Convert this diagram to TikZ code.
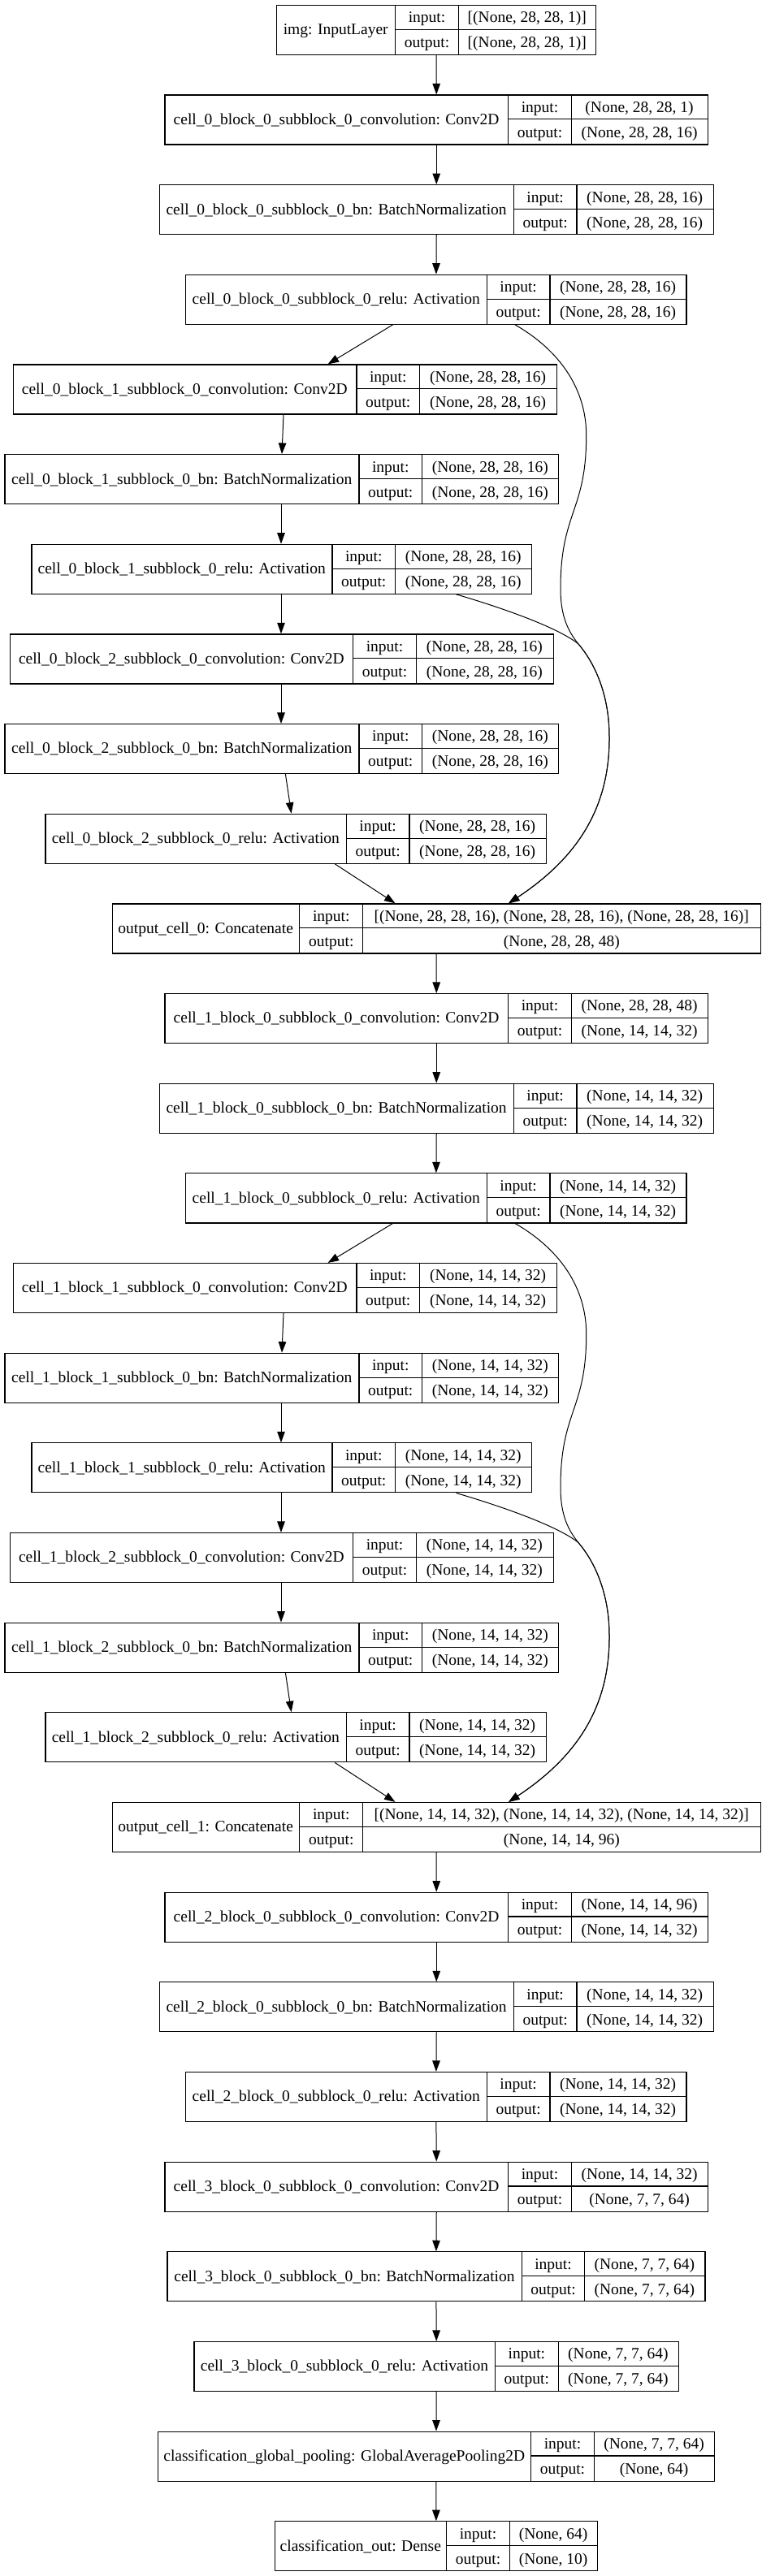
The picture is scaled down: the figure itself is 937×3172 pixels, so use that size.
\documentclass[tikz,border=0pt]{standalone}
\usepackage{fontspec}
\setmainfont{Liberation Serif}
\usetikzlibrary{arrows.meta,calc}
\tikzset{
  layerbox/.style={draw=black, line width=1.2pt, inner sep=0pt, minimum height=61pt, fill=white},
  cellline/.style={draw=black, line width=1.2pt},
  txt/.style={anchor=base, inner sep=0pt, font=\fontsize{19.5}{22}\selectfont},
  arr/.style={draw=black, line width=1pt, -{Triangle[length=13.5pt,width=9.5pt]}},
}
\newcommand\layer[9]{%
  \pgfmathsetmacro\lt{5.7+110.66*(#2-1)}%
  \pgfmathsetmacro\lb{\lt+61}%
  \pgfmathsetmacro\lw{#6-#3}%
  \pgfmathsetmacro\lmid{\lt+30.5}%
  \pgfmathsetmacro\xa{(#3+#4)/2}%
  \pgfmathsetmacro\xb{(#4+#5)/2}%
  \pgfmathsetmacro\xc{(#5+#6)/2}%
  \pgfmathsetmacro\ya{\lt+37}%
  \pgfmathsetmacro\yb{\lt+22}%
  \pgfmathsetmacro\yc{\lt+53}%
  \node[layerbox, minimum width=\lw pt, anchor=north west] (#1) at (#3,\lt) {};
  \draw[cellline] (#4,\lt) -- (#4,\lb) (#5,\lt) -- (#5,\lb) (#4,\lmid) -- (#6,\lmid);
  \node[txt] (#1-name) at (\xa,\ya) {#7};
  \node[txt] (#1-inl) at (\xb,\yb) {input:};
  \node[txt] (#1-outl) at (\xb,\yc) {output:};
  \node[txt] (#1-in) at (\xc,\yb) {#8};
  \node[txt] (#1-out) at (\xc,\yc) {#9};
}
\newcommand\sedge[4]{\draw[arr] ([xshift=#2pt]#1.south west) -- ([xshift=#4pt]#3.north west);}
\newcommand\skipcurves[3]{%
  \begin{scope}[shift={(#3.north west)}]
    \draw[arr] ([xshift=405.8pt]#1.south west) .. controls (552.5,-680.3) and (584.5,-632.3) .. (584.2,-575.6)
      .. controls (584.2,-482.3) and (552.5,-482.3) .. (552.5,-387.3)
      .. controls (552.5,-352.3) and (562.5,-334.3) .. (574.5,-319.3)
      .. controls (597.5,-292.3) and (612.5,-252.3) .. (612.5,-205.6)
      .. controls (613.5,-112.3) and (567.5,-52.3) .. ([xshift=488.5pt]#3.north west);
    \draw[arr] ([xshift=523.2pt]#2.south west) .. controls (492.5,-360.3) and (552.5,-337.3) .. (574.5,-319.3)
      .. controls (597.5,-292.3) and (612.5,-252.3) .. (612.5,-205.6)
      .. controls (613.5,-112.3) and (567.5,-52.3) .. ([xshift=488.5pt]#3.north west);
  \end{scope}
}
\begin{document}
\begin{tikzpicture}[x=1pt,y=-1pt]
\fill[white] (0,0) rectangle (937,3172);
\useasboundingbox (0,0) rectangle (937,3172);

% cell 0
\layer{img}{1}{340}{486.5}{564.6}{733}{img: InputLayer}{[(None, 28, 28, 1)]}{[(None, 28, 28, 1)]}
\layer{c00c}{2}{202.4}{625.8}{703.3}{870.9}{cell\_0\_block\_0\_subblock\_0\_convolution: Conv2D}{(None, 28, 28, 1)}{(None, 28, 28, 16)}
\layer{c00b}{3}{195.8}{632.4}{709.9}{877.5}{cell\_0\_block\_0\_subblock\_0\_bn: BatchNormalization}{(None, 28, 28, 16)}{(None, 28, 28, 16)}
\layer{c00r}{4}{228.2}{599.4}{676.9}{844.4}{cell\_0\_block\_0\_subblock\_0\_relu: Activation}{(None, 28, 28, 16)}{(None, 28, 28, 16)}
\layer{c01c}{5}{15.6}{439}{516.5}{684.7}{cell\_0\_block\_1\_subblock\_0\_convolution: Conv2D}{(None, 28, 28, 16)}{(None, 28, 28, 16)}
\layer{c01b}{6}{5.4}{442}{519.5}{687.1}{cell\_0\_block\_1\_subblock\_0\_bn: BatchNormalization}{(None, 28, 28, 16)}{(None, 28, 28, 16)}
\layer{c01r}{7}{38.4}{409}{486.5}{654}{cell\_0\_block\_1\_subblock\_0\_relu: Activation}{(None, 28, 28, 16)}{(None, 28, 28, 16)}
\layer{c02c}{8}{12}{434.8}{512.3}{680.5}{cell\_0\_block\_2\_subblock\_0\_convolution: Conv2D}{(None, 28, 28, 16)}{(None, 28, 28, 16)}
\layer{c02b}{9}{5.4}{442}{519.5}{687.1}{cell\_0\_block\_2\_subblock\_0\_bn: BatchNormalization}{(None, 28, 28, 16)}{(None, 28, 28, 16)}
\layer{c02r}{10}{55.3}{426.4}{503.9}{671.5}{cell\_0\_block\_2\_subblock\_0\_relu: Activation}{(None, 28, 28, 16)}{(None, 28, 28, 16)}
\layer{oc0}{11}{137.5}{368.8}{446.8}{935.7}{output\_cell\_0: Concatenate}{[(None, 28, 28, 16), (None, 28, 28, 16), (None, 28, 28, 16)]}{(None, 28, 28, 48)}

% cell 1
\layer{c10c}{12}{202.4}{625.8}{703.3}{870.9}{cell\_1\_block\_0\_subblock\_0\_convolution: Conv2D}{(None, 28, 28, 48)}{(None, 14, 14, 32)}
\layer{c10b}{13}{195.8}{632.4}{709.9}{877.5}{cell\_1\_block\_0\_subblock\_0\_bn: BatchNormalization}{(None, 14, 14, 32)}{(None, 14, 14, 32)}
\layer{c10r}{14}{228.2}{599.4}{676.9}{844.4}{cell\_1\_block\_0\_subblock\_0\_relu: Activation}{(None, 14, 14, 32)}{(None, 14, 14, 32)}
\layer{c11c}{15}{15.6}{439}{516.5}{684.7}{cell\_1\_block\_1\_subblock\_0\_convolution: Conv2D}{(None, 14, 14, 32)}{(None, 14, 14, 32)}
\layer{c11b}{16}{5.4}{442}{519.5}{687.1}{cell\_1\_block\_1\_subblock\_0\_bn: BatchNormalization}{(None, 14, 14, 32)}{(None, 14, 14, 32)}
\layer{c11r}{17}{38.4}{409}{486.5}{654}{cell\_1\_block\_1\_subblock\_0\_relu: Activation}{(None, 14, 14, 32)}{(None, 14, 14, 32)}
\layer{c12c}{18}{12}{434.8}{512.3}{680.5}{cell\_1\_block\_2\_subblock\_0\_convolution: Conv2D}{(None, 14, 14, 32)}{(None, 14, 14, 32)}
\layer{c12b}{19}{5.4}{442}{519.5}{687.1}{cell\_1\_block\_2\_subblock\_0\_bn: BatchNormalization}{(None, 14, 14, 32)}{(None, 14, 14, 32)}
\layer{c12r}{20}{55.3}{426.4}{503.9}{671.5}{cell\_1\_block\_2\_subblock\_0\_relu: Activation}{(None, 14, 14, 32)}{(None, 14, 14, 32)}
\layer{oc1}{21}{137.5}{368.8}{446.8}{935.7}{output\_cell\_1: Concatenate}{[(None, 14, 14, 32), (None, 14, 14, 32), (None, 14, 14, 32)]}{(None, 14, 14, 96)}

% cell 2, 3, classification
\layer{c20c}{22}{202.4}{625.8}{703.3}{870.9}{cell\_2\_block\_0\_subblock\_0\_convolution: Conv2D}{(None, 14, 14, 96)}{(None, 14, 14, 32)}
\layer{c20b}{23}{195.8}{632.4}{709.9}{877.5}{cell\_2\_block\_0\_subblock\_0\_bn: BatchNormalization}{(None, 14, 14, 32)}{(None, 14, 14, 32)}
\layer{c20r}{24}{228.2}{599.4}{676.9}{844.4}{cell\_2\_block\_0\_subblock\_0\_relu: Activation}{(None, 14, 14, 32)}{(None, 14, 14, 32)}
\layer{c30c}{25}{202.4}{625.8}{703.3}{870.9}{cell\_3\_block\_0\_subblock\_0\_convolution: Conv2D}{(None, 14, 14, 32)}{(None, 7, 7, 64)}
\layer{c30b}{26}{205.4}{642.6}{719.5}{867.3}{cell\_3\_block\_0\_subblock\_0\_bn: BatchNormalization}{(None, 7, 7, 64)}{(None, 7, 7, 64)}
\layer{c30r}{27}{238.4}{609.6}{687.1}{834.8}{cell\_3\_block\_0\_subblock\_0\_relu: Activation}{(None, 7, 7, 64)}{(None, 7, 7, 64)}
\layer{pool}{28}{194}{653.5}{731.5}{878.7}{classification\_global\_pooling: GlobalAveragePooling2D}{(None, 7, 7, 64)}{(None, 64)}
\layer{dense}{29}{338.1}{549.5}{627.6}{734.5}{classification\_out: Dense}{(None, 64)}{(None, 10)}

% edges: main column
\draw[arr] (img.south) -- (c00c.north);
\draw[arr] (c00c.south) -- (c00b.north);
\draw[arr] (c00b.south) -- (c00r.north);
\draw[arr] (oc0.south) -- (c10c.north);
\draw[arr] (c10c.south) -- (c10b.north);
\draw[arr] (c10b.south) -- (c10r.north);
\draw[arr] (oc1.south) -- (c20c.north);
\draw[arr] (c20c.south) -- (c20b.north);
\draw[arr] (c20b.south) -- (c20r.north);
\draw[arr] (c20r.south) -- (c30c.north);
\draw[arr] (c30c.south) -- (c30b.north);
\draw[arr] (c30b.south) -- (c30r.north);
\draw[arr] (c30r.south) -- (pool.north);
\draw[arr] (pool.south) -- (dense.north);

% edges: left column, cell 0
\sedge{c00r}{255.3}{c01c}{388}
\sedge{c01c}{333.4}{c01b}{341.6}
\sedge{c01b}{340.6}{c01r}{307.6}
\sedge{c01r}{307.6}{c02c}{334}
\sedge{c02c}{334}{c02b}{340.6}
\sedge{c02b}{346}{c02r}{303.3}
\sedge{c02r}{357}{oc0}{349}
\skipcurves{c00r}{c01r}{oc0}

% edges: left column, cell 1
\sedge{c10r}{255.3}{c11c}{388}
\sedge{c11c}{333.4}{c11b}{341.6}
\sedge{c11b}{340.6}{c11r}{307.6}
\sedge{c11r}{307.6}{c12c}{334}
\sedge{c12c}{334}{c12b}{340.6}
\sedge{c12b}{346}{c12r}{303.3}
\sedge{c12r}{357}{oc1}{349}
\skipcurves{c10r}{c11r}{oc1}
\end{tikzpicture}
\end{document}
